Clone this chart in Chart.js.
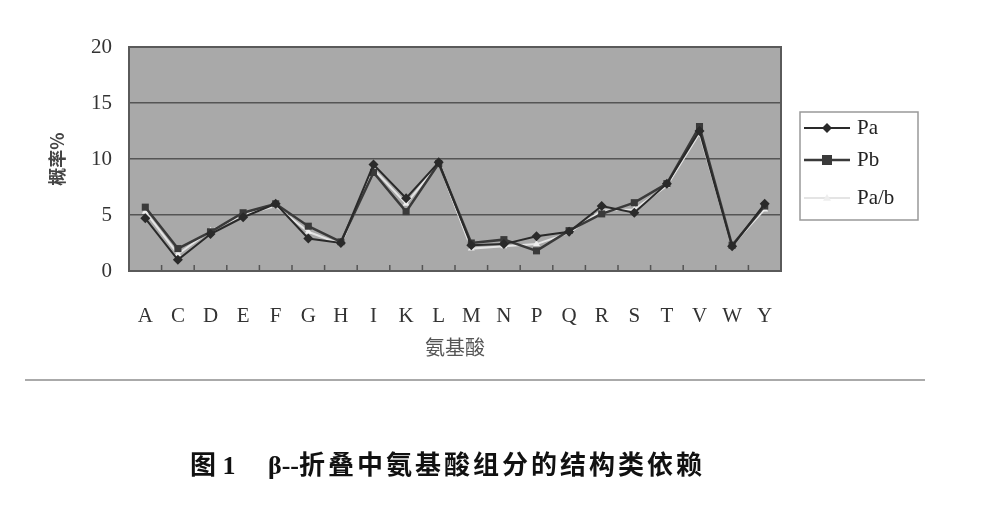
<!DOCTYPE html>
<html>
<head>
<meta charset="utf-8">
<script src="https://cdn.jsdelivr.net/npm/chart.js@4"></script>
<style>
  body { margin: 0; background: #fff; }
  #wrap { position: relative; width: 996px; height: 516px; }
  #box { position: absolute; left: 0; top: 0; width: 996px; height: 516px; }
  #rule { position: absolute; left: 25px; top: 379px; width: 900px; height: 2px; background: #aaa; }
  #caption {
    position: absolute; left: 190px; top: 444px; white-space: pre;
    font: bold 26px "Noto Sans CJK SC", sans-serif; color: #111;
  }
  #caption .lat { font-family: "Liberation Serif", serif; letter-spacing: 0; }
  #caption .cjk { letter-spacing: 3px; }
</style>
</head>
<body>
<div id="wrap">
  <div id="box"><canvas id="betaChart"></canvas></div>
  <div id="rule"></div>
  <div id="caption"><span>图</span><span class="lat"> 1     β--</span><span class="cjk">折叠中氨基酸组分的结构类依赖</span></div>
</div>
<script>
const aminoAcids = ["A", "C", "D", "E", "F", "G", "H", "I", "K", "L", "M", "N", "P", "Q", "R", "S", "T", "V", "W", "Y"];
const pa  = [4.7, 1.0, 3.3, 4.8, 6.0, 2.9, 2.5, 9.5, 6.5, 9.7, 2.3, 2.4, 3.1, 3.5, 5.8, 5.2, 7.8, 12.5, 2.2, 6.0];
const pb  = [5.7, 2.0, 3.5, 5.2, 6.0, 4.0, 2.6, 8.8, 5.3, 9.6, 2.5, 2.8, 1.8, 3.6, 5.1, 6.1, 7.8, 12.9, 2.3, 5.8];
const pab = [5.3, 1.5, 3.6, 5.0, 5.8, 3.5, 2.4, 9.1, 6.0, 9.6, 2.0, 2.2, 2.4, 3.4, 5.4, 5.5, 7.6, 12.3, 2.3, 5.5];
const yTicks = [0, 5, 10, 15, 20];

const serif = "'Liberation Serif', 'DejaVu Serif', serif";

// grey plot area with a dark frame
const plotBack = {
    id: "plotBack",
    beforeDraw(chart) {
        const { ctx, chartArea: a } = chart;
        ctx.save();
        ctx.fillStyle = "#a9a9a9";
        ctx.fillRect(a.left, a.top, a.right - a.left, a.bottom - a.top);
        ctx.restore();
    },
    afterDatasetsDraw(chart) {
        const { ctx, chartArea: a } = chart;
        const x = chart.scales.x;
        ctx.save();
        ctx.strokeStyle = "#555";
        ctx.lineWidth = 1.5;
        for (let i = 1; i < aminoAcids.length; i++) {
            const px = x.getPixelForValue(i - 0.5);
            ctx.beginPath();
            ctx.moveTo(px, a.bottom);
            ctx.lineTo(px, a.bottom - 6);
            ctx.stroke();
        }
        ctx.lineWidth = 2;
        ctx.strokeStyle = "#5a5a5a";
        ctx.strokeRect(a.left, a.top, a.right - a.left, a.bottom - a.top);
        ctx.restore();
    }
};

function marker(ctx, style, x, y, r, fill) {
    ctx.fillStyle = fill;
    ctx.beginPath();
    if (style === "rectRot") {
        ctx.moveTo(x, y - r); ctx.lineTo(x + r, y); ctx.lineTo(x, y + r); ctx.lineTo(x - r, y);
    } else if (style === "rect") {
        ctx.rect(x - r, y - r, 2 * r, 2 * r);
    } else {
        ctx.moveTo(x, y - r); ctx.lineTo(x + r, y + r * 0.7); ctx.lineTo(x - r, y + r * 0.7);
    }
    ctx.closePath();
    ctx.fill();
}

// legend box on the right
const sideLegend = {
    id: "sideLegend",
    afterDraw(chart) {
        const ctx = chart.ctx;
        ctx.save();
        ctx.strokeStyle = "#999";
        ctx.lineWidth = 1.5;
        ctx.strokeRect(800, 112, 118, 108);
        const rows = [128, 160, 198];
        chart.data.datasets.forEach((ds, i) => {
            const y = rows[i];
            ctx.strokeStyle = ds.borderColor;
            ctx.lineWidth = ds.borderWidth;
            ctx.beginPath();
            ctx.moveTo(804, y);
            ctx.lineTo(850, y);
            ctx.stroke();
            marker(ctx, ds.pointStyle, 827, y, ds.pointRadius, ds.pointBackgroundColor);
            ctx.fillStyle = "#222";
            ctx.font = "21px " + serif;
            ctx.textBaseline = "middle";
            ctx.fillText(ds.label, 857, y);
        });
        ctx.restore();
    }
};

new Chart(document.getElementById("betaChart").getContext("2d"), {
    type: "line",
    data: {
        labels: aminoAcids,
        datasets: [
            { label: "Pa", data: pa, borderColor: "#2a2a2a", borderWidth: 2, pointStyle: "rectRot",
              pointRadius: 5, pointBackgroundColor: "#2a2a2a", pointBorderWidth: 0 },
            { label: "Pb", data: pb, borderColor: "#3a3a3a", borderWidth: 2.5, pointStyle: "rect",
              pointRadius: 5, pointBackgroundColor: "#3a3a3a", pointBorderWidth: 0 },
            { label: "Pa/b", data: pab, borderColor: "#e4e4e4", borderWidth: 2, pointStyle: "triangle",
              pointRadius: 4, pointBackgroundColor: "#eeeeee", pointBorderWidth: 0 }
        ]
    },
    options: {
        responsive: true,
        maintainAspectRatio: false,
        animation: false,
        events: [],
        layout: { padding: { left: 30, top: 47, right: 215, bottom: 155 } },
        plugins: { legend: { display: false }, tooltip: { enabled: false } },
        scales: {
            x: {
                offset: true,
                grid: { display: false },
                border: { display: false },
                ticks: { color: "#333", font: { family: serif, size: 21 }, padding: 25, maxRotation: 0 },
                title: { display: true, text: "氨基酸", color: "#555",
                         font: { family: "'Noto Sans CJK SC'", size: 20 }, padding: { top: 0, bottom: 2 } },
                afterFit(scale) { scale.height = 90; }
            },
            y: {
                min: 0,
                max: 20,
                afterBuildTicks(scale) { scale.ticks = yTicks.map(v => ({ value: v })); },
                grid: { color: "#555", lineWidth: 1.5, drawTicks: false },
                border: { display: false },
                ticks: { color: "#333", font: { family: serif, size: 21 }, padding: 17 },
                title: { display: true, text: "概率%", color: "#444",
                         font: { family: "'Noto Sans CJK SC'", size: 18, weight: "bold" }, padding: { top: 16, bottom: 0 } },
                afterFit(scale) { scale.width = 99; }
            }
        }
    },
    plugins: [plotBack, sideLegend]
});
</script>
</body>
</html>
